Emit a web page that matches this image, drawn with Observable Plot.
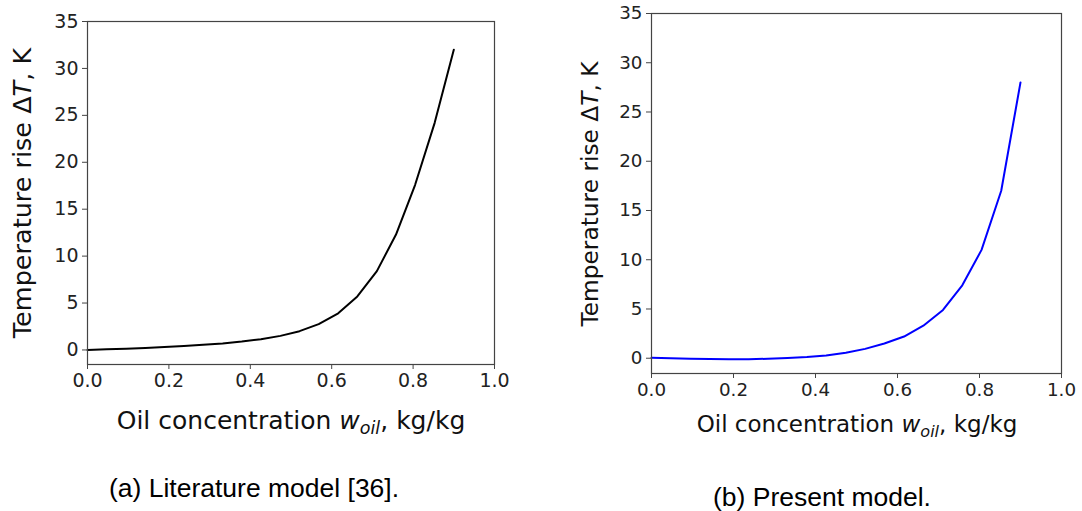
<!DOCTYPE html>
<html>
<head>
<meta charset="utf-8">
<script src="https://cdn.jsdelivr.net/npm/d3@7"></script>
<script src="https://cdn.jsdelivr.net/npm/@observablehq/plot@0.6"></script>
<style>
  html, body { margin: 0; padding: 0; background: #fff; }
  #root { position: relative; width: 1082px; height: 511px; overflow: hidden; background: #fff; }
  .panel { position: absolute; top: 0; }
  .ylab, .xlab { position: absolute; font-family: "DejaVu Sans", sans-serif; color: #111; white-space: nowrap; }
  .ylab { transform: translate(-50%, -50%) rotate(-90deg); }
  .xlab { transform: translate(-50%, -50%); }
  .cap { position: absolute; font-family: "Liberation Sans", Arial, sans-serif; font-size: 26.5px; color: #000; white-space: nowrap; transform: translate(-50%, -50%); }
  sub { font-size: 0.7em; vertical-align: -0.25em; }
</style>
</head>
<body>
<div id="root"></div>
<script>
// Oil concentration (kg/kg) sample points
const woil = [0, 0.047, 0.095, 0.142, 0.189, 0.237, 0.284, 0.332, 0.379, 0.426,
              0.474, 0.521, 0.568, 0.616, 0.663, 0.711, 0.758, 0.805, 0.853, 0.9];
// (a) Literature model temperature rise, K
const dTLiterature = [0, 0.07, 0.14, 0.22, 0.32, 0.42, 0.55, 0.7, 0.9, 1.15,
                      1.5, 2.0, 2.75, 3.9, 5.7, 8.4, 12.3, 17.6, 24.2, 32.0];
// (b) Present model temperature rise, K
const dTPresent = [0.05, 0.0, -0.05, -0.08, -0.1, -0.1, -0.05, 0.02, 0.12, 0.28,
                   0.55, 0.95, 1.5, 2.2, 3.3, 4.9, 7.4, 11.0, 17.0, 28.0];
const xTicks = [0, 0.2, 0.4, 0.6, 0.8, 1.0];
const yTicks = [0, 5, 10, 15, 20, 25, 30, 35];

function panel(vals, color, m) {
  const data = woil.map((w, i) => ({w, dT: vals[i]}));
  return Plot.plot({
    width: m.width, height: m.height,
    marginLeft: m.left, marginRight: m.right, marginTop: m.top, marginBottom: m.bottom,
    style: {fontFamily: "DejaVu Sans, sans-serif", fontSize: m.font + "px", color: "#222", background: "white", overflow: "visible"},
    x: {domain: [0, 1]},
    y: {domain: [-1.55, 35]},
    marks: [
      Plot.line(data, {x: "w", y: "dT", stroke: color, strokeWidth: 2}),
      Plot.frame({stroke: "#444", strokeWidth: 1.2}),
      Plot.axisX({ticks: xTicks, tickFormat: d3.format(".1f"), tickSize: 5, tickPadding: 4, label: null, stroke: "#444"}),
      Plot.axisY({ticks: yTicks, tickSize: 5, tickPadding: 4, label: null, stroke: "#444"})
    ]
  });
}

const root = document.getElementById("root");

const left = panel(dTLiterature, "black", {width: 540, height: 400, left: 87, right: 46, top: 21, bottom: 36, font: 19});
left.classList.add("panel"); left.style.left = "0px";
root.appendChild(left);

const right = panel(dTPresent, "#0000ff", {width: 522, height: 400, left: 91, right: 21, top: 13, bottom: 27, font: 18.3});
right.classList.add("panel"); right.style.left = "560px";
root.appendChild(right);

function addDiv(cls, html, x, y, size) {
  const d = document.createElement("div");
  d.className = cls; d.innerHTML = html;
  d.style.left = x + "px"; d.style.top = y + "px";
  if (size) d.style.fontSize = size + "px";
  root.appendChild(d);
}
const yLabel = "Temperature rise Δ<i>T</i>, K";
const xLabel = "Oil concentration <i>w</i><sub><i>oil</i></sub>, kg/kg";
addDiv("ylab", yLabel, 22, 193, 25.5);
addDiv("ylab", yLabel, 589, 194, 23.3);
addDiv("xlab", xLabel, 291, 422, 25);
addDiv("xlab", xLabel, 857, 426, 23);
addDiv("cap", "(a) Literature model [36].", 254, 488);
addDiv("cap", "(b) Present model.", 822, 497);
</script>
</body>
</html>
